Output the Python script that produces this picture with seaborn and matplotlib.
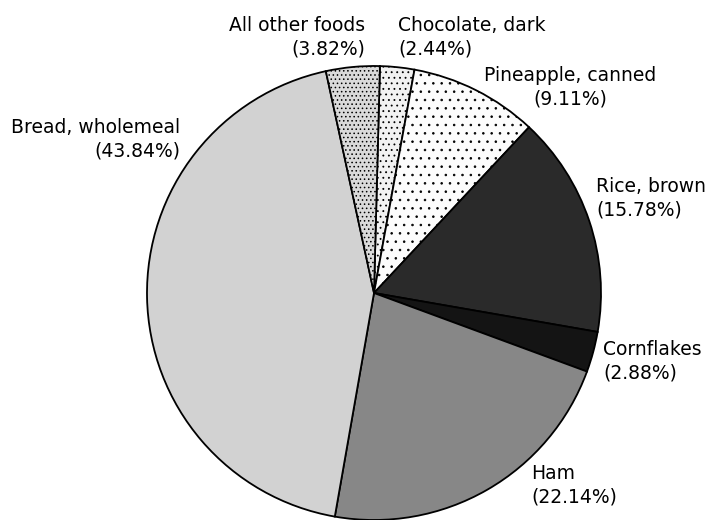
import matplotlib.pyplot as plt
import seaborn as sns

sns.set_style("white")
plt.rcParams['font.family'] = ['DejaVu Sans']
plt.rcParams['hatch.linewidth'] = 0.6

# Dados do gráfico (sentido horário a partir do topo)
alimentos = ['Chocolate, dark', 'Pineapple, canned', 'Rice, brown', 'Cornflakes',
             'Ham', 'Bread, wholemeal', 'All other foods']
percentuais = [2.44, 9.11, 15.78, 2.88, 22.14, 43.84, 3.82]

# Aparência de cada fatia (tons de cinza imitando o pontilhado)
cores = ['#f2f2f2', '#fcfcfc', '#2a2a2a', '#141414', '#878787', '#d2d2d2', '#dadada']
hachuras = ['...', '..', None, None, None, None, '....']

# Posição dos rótulos (pixels, origem no canto superior esquerdo)
rotulos_pos = [(398, 37, 'left'), (570, 87, 'center'), (596, 198, 'left'),
               (603, 361, 'left'), (531, 485, 'left'), (180, 139, 'right'),
               (365, 37, 'right')]

W, H = 721, 520
fig = plt.figure(figsize=(W / 100, H / 100), dpi=100)
ax = fig.add_axes([0, 0, 1, 1])

fatias, _ = ax.pie(percentuais, startangle=88.5, counterclock=False,
                   colors=cores, center=(374, H - 293), radius=227,
                   wedgeprops=dict(edgecolor='black', linewidth=1.3),
                   frame=True)
for fatia, h in zip(fatias, hachuras):
    if h:
        fatia.set_hatch(h)
ax.set_xlim(0, W)
ax.set_ylim(0, H)
ax.axis('off')

for nome, pct, (x, y, ha) in zip(alimentos, percentuais, rotulos_pos):
    ax.text(x, H - y, f"{nome}\n({pct:.2f}%)", ha=ha, va='center',
            multialignment=ha, fontsize=13.5, linespacing=1.3, color='black')

plt.savefig('out.png', dpi=100)
